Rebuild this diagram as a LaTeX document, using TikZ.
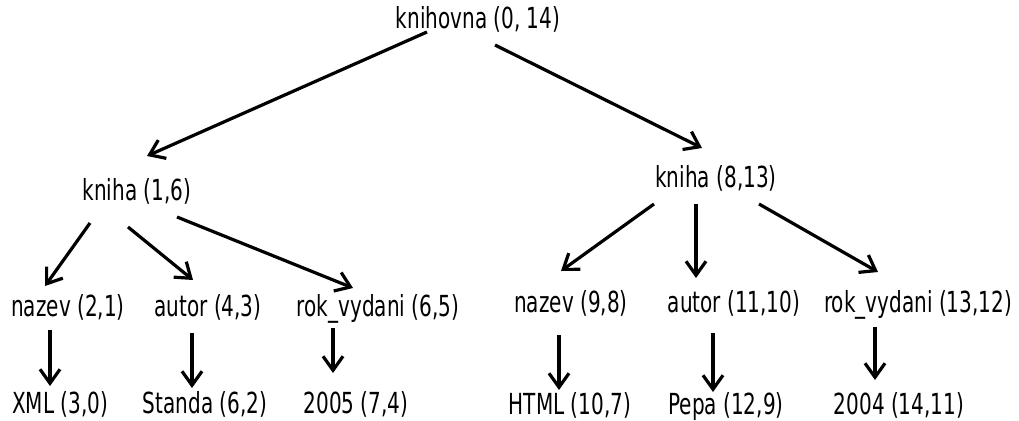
\documentclass[tikz,border=0pt]{standalone}
\usepackage{fontspec}
\setmainfont{DejaVu Sans}[FakeStretch=0.69]
\usetikzlibrary{arrows.meta}

\begin{document}
\begin{tikzpicture}[
  x=1pt, y=-1pt,
  >={Straight Barb[length=14pt,width=20pt]},
  every node/.style={font=\fontsize{29}{34}\selectfont, inner sep=0pt, anchor=base},
  arr/.style={->, line width=3.2pt}
]
\useasboundingbox (0,0) rectangle (1019,420);

% 根
\node (root) at (478,29) {knihovna (0, 14)};

% 本
\node (k1) at (137,200) {kniha (1,6)};
\node (k2) at (716,187) {kniha (8,13)};

% 要素
\node (n1) at (68,316)  {nazev (2,1)};
\node (a1) at (208,316) {autor (4,3)};
\node (r1) at (378,316) {rok\_vydani (6,5)};
\node (n2) at (571,312) {nazev (9,8)};
\node (a2) at (734,312) {autor (11,10)};
\node (r2) at (918,312) {rok\_vydani (13,12)};

% テキスト
\node (x1) at (60,413)  {XML (3,0)};
\node (s1) at (205,413) {Standa (6,2)};
\node (y1) at (356,413) {2005 (7,4)};
\node (h2) at (570,414) {HTML (10,7)};
\node (p2) at (726,414) {Pepa (12,9)};
\node (y2) at (899,414) {2004 (14,11)};

% 矢印
\draw[arr] ([shift={(-51,3)}]root.base) -- ([shift={(10,-44)}]k1.base);
\draw[arr] ([shift={(17,16)}]root.base) -- ([shift={(-14,-39)}]k2.base);

\draw[arr] ([shift={(-47,23)}]k1.base) -- ([shift={(-23,-30)}]n1.base);
\draw[arr] ([shift={(-9,27)}]k1.base)  -- ([shift={(-15,-36)}]a1.base);
\draw[arr] ([shift={(40,17)}]k1.base)  -- ([shift={(-25,-28)}]r1.base);

\draw[arr] ([shift={(-62,17)}]k2.base) -- ([shift={(-10,-41)}]n2.base);
\draw[arr] ([shift={(-20,17)}]k2.base) -- ([shift={(-38,-34)}]a2.base);
\draw[arr] ([shift={(43,17)}]k2.base)  -- ([shift={(-40,-40)}]r2.base);

\draw[arr] ([shift={(-18,14)}]n1.base) -- ([shift={(-10,-27)}]x1.base);
\draw[arr] ([shift={(-16,17)}]a1.base) -- ([shift={(-13,-25)}]s1.base);
\draw[arr] ([shift={(-45,12)}]r1.base) -- ([shift={(-23,-40)}]y1.base);

\draw[arr] ([shift={(-12,23)}]n2.base) -- ([shift={(-11,-24)}]h2.base);
\draw[arr] ([shift={(-21,21)}]a2.base) -- ([shift={(-13,-22)}]p2.base);
\draw[arr] ([shift={(-43,15)}]r2.base) -- ([shift={(-24,-34)}]y2.base);
\end{tikzpicture}
\end{document}
